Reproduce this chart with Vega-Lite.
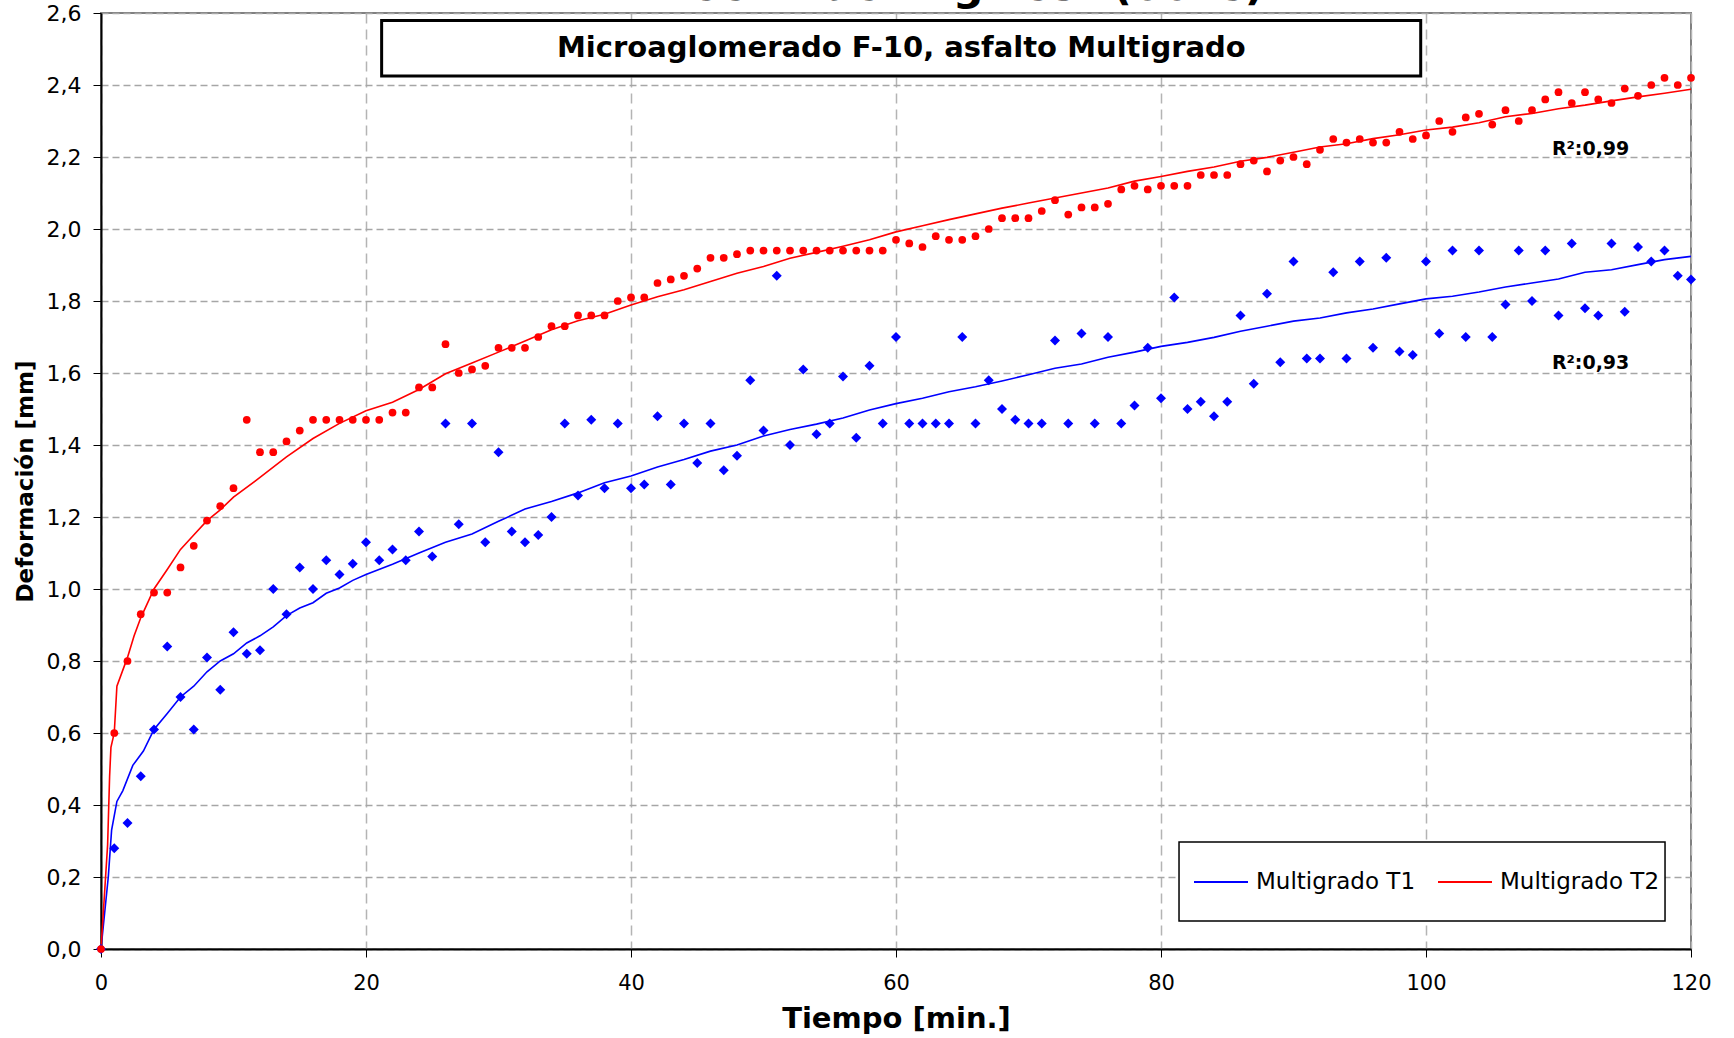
{
"$schema": "https://vega.github.io/schema/vega-lite/v6.json",
"width": 1590,
"height": 936,
"autosize": {"type": "none"},
"padding": {"left": 101, "top": 13, "right": 43, "bottom": 89},
"background": "white",
"config": {
"font": "DejaVu Sans",
"view": {"stroke": "#808080", "strokeWidth": 2},
"axis": {"labelFont": "DejaVu Sans", "labelFontSize": 21, "labelColor": "black", "labelOverlap": false, "tickSize": 8, "tickColor": "black", "tickWidth": 1, "domainColor": "black", "domainWidth": 2, "grid": true, "gridWidth": 1.5, "titleFont": "DejaVu Sans", "titleFontWeight": "bold", "titleColor": "black"},
"axisX": {"titleFontSize": 29, "titlePadding": 11, "labelPadding": 15, "labelFlush": false, "gridColor": "#b4b4b4", "gridDash": [10, 6]},
"axisY": {"titleFontSize": 23, "titlePadding": 9, "labelFontSize": 22, "labelPadding": 12, "gridColor": "#a6a6a6", "gridDash": [7, 4]}
},
"datasets": {
"medidas": [
{"t":0,"d":0,"s":"Multigrado T1"},{"t":1,"d":0.28,"s":"Multigrado T1"},{"t":2,"d":0.35,"s":"Multigrado T1"},{"t":3,"d":0.48,"s":"Multigrado T1"},{"t":4,"d":0.61,"s":"Multigrado T1"},{"t":5,"d":0.84,"s":"Multigrado T1"},{"t":6,"d":0.70,"s":"Multigrado T1"},{"t":7,"d":0.61,"s":"Multigrado T1"},{"t":8,"d":0.81,"s":"Multigrado T1"},{"t":9,"d":0.72,"s":"Multigrado T1"},{"t":10,"d":0.88,"s":"Multigrado T1"},
{"t":11,"d":0.82,"s":"Multigrado T1"},{"t":12,"d":0.83,"s":"Multigrado T1"},{"t":13,"d":1.00,"s":"Multigrado T1"},{"t":14,"d":0.93,"s":"Multigrado T1"},{"t":15,"d":1.06,"s":"Multigrado T1"},{"t":16,"d":1.00,"s":"Multigrado T1"},{"t":17,"d":1.08,"s":"Multigrado T1"},{"t":18,"d":1.04,"s":"Multigrado T1"},{"t":19,"d":1.07,"s":"Multigrado T1"},{"t":20,"d":1.13,"s":"Multigrado T1"},
{"t":21,"d":1.08,"s":"Multigrado T1"},{"t":22,"d":1.11,"s":"Multigrado T1"},{"t":23,"d":1.08,"s":"Multigrado T1"},{"t":24,"d":1.16,"s":"Multigrado T1"},{"t":25,"d":1.09,"s":"Multigrado T1"},{"t":26,"d":1.46,"s":"Multigrado T1"},{"t":27,"d":1.18,"s":"Multigrado T1"},{"t":28,"d":1.46,"s":"Multigrado T1"},{"t":29,"d":1.13,"s":"Multigrado T1"},{"t":30,"d":1.38,"s":"Multigrado T1"},
{"t":31,"d":1.16,"s":"Multigrado T1"},{"t":32,"d":1.13,"s":"Multigrado T1"},{"t":33,"d":1.15,"s":"Multigrado T1"},{"t":34,"d":1.20,"s":"Multigrado T1"},{"t":35,"d":1.46,"s":"Multigrado T1"},{"t":36,"d":1.26,"s":"Multigrado T1"},{"t":37,"d":1.47,"s":"Multigrado T1"},{"t":38,"d":1.28,"s":"Multigrado T1"},{"t":39,"d":1.46,"s":"Multigrado T1"},{"t":40,"d":1.28,"s":"Multigrado T1"},
{"t":41,"d":1.29,"s":"Multigrado T1"},{"t":42,"d":1.48,"s":"Multigrado T1"},{"t":43,"d":1.29,"s":"Multigrado T1"},{"t":44,"d":1.46,"s":"Multigrado T1"},{"t":45,"d":1.35,"s":"Multigrado T1"},{"t":46,"d":1.46,"s":"Multigrado T1"},{"t":47,"d":1.33,"s":"Multigrado T1"},{"t":48,"d":1.37,"s":"Multigrado T1"},{"t":49,"d":1.58,"s":"Multigrado T1"},{"t":50,"d":1.44,"s":"Multigrado T1"},
{"t":51,"d":1.87,"s":"Multigrado T1"},{"t":52,"d":1.40,"s":"Multigrado T1"},{"t":53,"d":1.61,"s":"Multigrado T1"},{"t":54,"d":1.43,"s":"Multigrado T1"},{"t":55,"d":1.46,"s":"Multigrado T1"},{"t":56,"d":1.59,"s":"Multigrado T1"},{"t":57,"d":1.42,"s":"Multigrado T1"},{"t":58,"d":1.62,"s":"Multigrado T1"},{"t":59,"d":1.46,"s":"Multigrado T1"},{"t":60,"d":1.70,"s":"Multigrado T1"},
{"t":61,"d":1.46,"s":"Multigrado T1"},{"t":62,"d":1.46,"s":"Multigrado T1"},{"t":63,"d":1.46,"s":"Multigrado T1"},{"t":64,"d":1.46,"s":"Multigrado T1"},{"t":65,"d":1.70,"s":"Multigrado T1"},{"t":66,"d":1.46,"s":"Multigrado T1"},{"t":67,"d":1.58,"s":"Multigrado T1"},{"t":68,"d":1.50,"s":"Multigrado T1"},{"t":69,"d":1.47,"s":"Multigrado T1"},{"t":70,"d":1.46,"s":"Multigrado T1"},
{"t":71,"d":1.46,"s":"Multigrado T1"},{"t":72,"d":1.69,"s":"Multigrado T1"},{"t":73,"d":1.46,"s":"Multigrado T1"},{"t":74,"d":1.71,"s":"Multigrado T1"},{"t":75,"d":1.46,"s":"Multigrado T1"},{"t":76,"d":1.70,"s":"Multigrado T1"},{"t":77,"d":1.46,"s":"Multigrado T1"},{"t":78,"d":1.51,"s":"Multigrado T1"},{"t":79,"d":1.67,"s":"Multigrado T1"},{"t":80,"d":1.53,"s":"Multigrado T1"},
{"t":81,"d":1.81,"s":"Multigrado T1"},{"t":82,"d":1.50,"s":"Multigrado T1"},{"t":83,"d":1.52,"s":"Multigrado T1"},{"t":84,"d":1.48,"s":"Multigrado T1"},{"t":85,"d":1.52,"s":"Multigrado T1"},{"t":86,"d":1.76,"s":"Multigrado T1"},{"t":87,"d":1.57,"s":"Multigrado T1"},{"t":88,"d":1.82,"s":"Multigrado T1"},{"t":89,"d":1.63,"s":"Multigrado T1"},{"t":90,"d":1.91,"s":"Multigrado T1"},
{"t":91,"d":1.64,"s":"Multigrado T1"},{"t":92,"d":1.64,"s":"Multigrado T1"},{"t":93,"d":1.88,"s":"Multigrado T1"},{"t":94,"d":1.64,"s":"Multigrado T1"},{"t":95,"d":1.91,"s":"Multigrado T1"},{"t":96,"d":1.67,"s":"Multigrado T1"},{"t":97,"d":1.92,"s":"Multigrado T1"},{"t":98,"d":1.66,"s":"Multigrado T1"},{"t":99,"d":1.65,"s":"Multigrado T1"},{"t":100,"d":1.91,"s":"Multigrado T1"},
{"t":101,"d":1.71,"s":"Multigrado T1"},{"t":102,"d":1.94,"s":"Multigrado T1"},{"t":103,"d":1.70,"s":"Multigrado T1"},{"t":104,"d":1.94,"s":"Multigrado T1"},{"t":105,"d":1.70,"s":"Multigrado T1"},{"t":106,"d":1.79,"s":"Multigrado T1"},{"t":107,"d":1.94,"s":"Multigrado T1"},{"t":108,"d":1.80,"s":"Multigrado T1"},{"t":109,"d":1.94,"s":"Multigrado T1"},{"t":110,"d":1.76,"s":"Multigrado T1"},
{"t":111,"d":1.96,"s":"Multigrado T1"},{"t":112,"d":1.78,"s":"Multigrado T1"},{"t":113,"d":1.76,"s":"Multigrado T1"},{"t":114,"d":1.96,"s":"Multigrado T1"},{"t":115,"d":1.77,"s":"Multigrado T1"},{"t":116,"d":1.95,"s":"Multigrado T1"},{"t":117,"d":1.91,"s":"Multigrado T1"},{"t":118,"d":1.94,"s":"Multigrado T1"},{"t":119,"d":1.87,"s":"Multigrado T1"},{"t":120,"d":1.86,"s":"Multigrado T1"},
{"t":0,"d":0,"s":"Multigrado T2"},{"t":1,"d":0.60,"s":"Multigrado T2"},{"t":2,"d":0.80,"s":"Multigrado T2"},{"t":3,"d":0.93,"s":"Multigrado T2"},{"t":4,"d":0.99,"s":"Multigrado T2"},{"t":5,"d":0.99,"s":"Multigrado T2"},{"t":6,"d":1.06,"s":"Multigrado T2"},{"t":7,"d":1.12,"s":"Multigrado T2"},{"t":8,"d":1.19,"s":"Multigrado T2"},{"t":9,"d":1.23,"s":"Multigrado T2"},{"t":10,"d":1.28,"s":"Multigrado T2"},
{"t":11,"d":1.47,"s":"Multigrado T2"},{"t":12,"d":1.38,"s":"Multigrado T2"},{"t":13,"d":1.38,"s":"Multigrado T2"},{"t":14,"d":1.41,"s":"Multigrado T2"},{"t":15,"d":1.44,"s":"Multigrado T2"},{"t":16,"d":1.47,"s":"Multigrado T2"},{"t":17,"d":1.47,"s":"Multigrado T2"},{"t":18,"d":1.47,"s":"Multigrado T2"},{"t":19,"d":1.47,"s":"Multigrado T2"},{"t":20,"d":1.47,"s":"Multigrado T2"},
{"t":21,"d":1.47,"s":"Multigrado T2"},{"t":22,"d":1.49,"s":"Multigrado T2"},{"t":23,"d":1.49,"s":"Multigrado T2"},{"t":24,"d":1.56,"s":"Multigrado T2"},{"t":25,"d":1.56,"s":"Multigrado T2"},{"t":26,"d":1.68,"s":"Multigrado T2"},{"t":27,"d":1.60,"s":"Multigrado T2"},{"t":28,"d":1.61,"s":"Multigrado T2"},{"t":29,"d":1.62,"s":"Multigrado T2"},{"t":30,"d":1.67,"s":"Multigrado T2"},
{"t":31,"d":1.67,"s":"Multigrado T2"},{"t":32,"d":1.67,"s":"Multigrado T2"},{"t":33,"d":1.70,"s":"Multigrado T2"},{"t":34,"d":1.73,"s":"Multigrado T2"},{"t":35,"d":1.73,"s":"Multigrado T2"},{"t":36,"d":1.76,"s":"Multigrado T2"},{"t":37,"d":1.76,"s":"Multigrado T2"},{"t":38,"d":1.76,"s":"Multigrado T2"},{"t":39,"d":1.80,"s":"Multigrado T2"},{"t":40,"d":1.81,"s":"Multigrado T2"},
{"t":41,"d":1.81,"s":"Multigrado T2"},{"t":42,"d":1.85,"s":"Multigrado T2"},{"t":43,"d":1.86,"s":"Multigrado T2"},{"t":44,"d":1.87,"s":"Multigrado T2"},{"t":45,"d":1.89,"s":"Multigrado T2"},{"t":46,"d":1.92,"s":"Multigrado T2"},{"t":47,"d":1.92,"s":"Multigrado T2"},{"t":48,"d":1.93,"s":"Multigrado T2"},{"t":49,"d":1.94,"s":"Multigrado T2"},{"t":50,"d":1.94,"s":"Multigrado T2"},
{"t":51,"d":1.94,"s":"Multigrado T2"},{"t":52,"d":1.94,"s":"Multigrado T2"},{"t":53,"d":1.94,"s":"Multigrado T2"},{"t":54,"d":1.94,"s":"Multigrado T2"},{"t":55,"d":1.94,"s":"Multigrado T2"},{"t":56,"d":1.94,"s":"Multigrado T2"},{"t":57,"d":1.94,"s":"Multigrado T2"},{"t":58,"d":1.94,"s":"Multigrado T2"},{"t":59,"d":1.94,"s":"Multigrado T2"},{"t":60,"d":1.97,"s":"Multigrado T2"},
{"t":61,"d":1.96,"s":"Multigrado T2"},{"t":62,"d":1.95,"s":"Multigrado T2"},{"t":63,"d":1.98,"s":"Multigrado T2"},{"t":64,"d":1.97,"s":"Multigrado T2"},{"t":65,"d":1.97,"s":"Multigrado T2"},{"t":66,"d":1.98,"s":"Multigrado T2"},{"t":67,"d":2.00,"s":"Multigrado T2"},{"t":68,"d":2.03,"s":"Multigrado T2"},{"t":69,"d":2.03,"s":"Multigrado T2"},{"t":70,"d":2.03,"s":"Multigrado T2"},
{"t":71,"d":2.05,"s":"Multigrado T2"},{"t":72,"d":2.08,"s":"Multigrado T2"},{"t":73,"d":2.04,"s":"Multigrado T2"},{"t":74,"d":2.06,"s":"Multigrado T2"},{"t":75,"d":2.06,"s":"Multigrado T2"},{"t":76,"d":2.07,"s":"Multigrado T2"},{"t":77,"d":2.11,"s":"Multigrado T2"},{"t":78,"d":2.12,"s":"Multigrado T2"},{"t":79,"d":2.11,"s":"Multigrado T2"},{"t":80,"d":2.12,"s":"Multigrado T2"},
{"t":81,"d":2.12,"s":"Multigrado T2"},{"t":82,"d":2.12,"s":"Multigrado T2"},{"t":83,"d":2.15,"s":"Multigrado T2"},{"t":84,"d":2.15,"s":"Multigrado T2"},{"t":85,"d":2.15,"s":"Multigrado T2"},{"t":86,"d":2.18,"s":"Multigrado T2"},{"t":87,"d":2.19,"s":"Multigrado T2"},{"t":88,"d":2.16,"s":"Multigrado T2"},{"t":89,"d":2.19,"s":"Multigrado T2"},{"t":90,"d":2.20,"s":"Multigrado T2"},
{"t":91,"d":2.18,"s":"Multigrado T2"},{"t":92,"d":2.22,"s":"Multigrado T2"},{"t":93,"d":2.25,"s":"Multigrado T2"},{"t":94,"d":2.24,"s":"Multigrado T2"},{"t":95,"d":2.25,"s":"Multigrado T2"},{"t":96,"d":2.24,"s":"Multigrado T2"},{"t":97,"d":2.24,"s":"Multigrado T2"},{"t":98,"d":2.27,"s":"Multigrado T2"},{"t":99,"d":2.25,"s":"Multigrado T2"},{"t":100,"d":2.26,"s":"Multigrado T2"},
{"t":101,"d":2.30,"s":"Multigrado T2"},{"t":102,"d":2.27,"s":"Multigrado T2"},{"t":103,"d":2.31,"s":"Multigrado T2"},{"t":104,"d":2.32,"s":"Multigrado T2"},{"t":105,"d":2.29,"s":"Multigrado T2"},{"t":106,"d":2.33,"s":"Multigrado T2"},{"t":107,"d":2.30,"s":"Multigrado T2"},{"t":108,"d":2.33,"s":"Multigrado T2"},{"t":109,"d":2.36,"s":"Multigrado T2"},{"t":110,"d":2.38,"s":"Multigrado T2"},
{"t":111,"d":2.35,"s":"Multigrado T2"},{"t":112,"d":2.38,"s":"Multigrado T2"},{"t":113,"d":2.36,"s":"Multigrado T2"},{"t":114,"d":2.35,"s":"Multigrado T2"},{"t":115,"d":2.39,"s":"Multigrado T2"},{"t":116,"d":2.37,"s":"Multigrado T2"},{"t":117,"d":2.40,"s":"Multigrado T2"},{"t":118,"d":2.42,"s":"Multigrado T2"},{"t":119,"d":2.40,"s":"Multigrado T2"},{"t":120,"d":2.42,"s":"Multigrado T2"}
],
"tendencia": [
{"t":0,"d":0,"s":"Multigrado T1"},{"t":0.55,"d":0.2,"s":"Multigrado T1"},{"t":0.8,"d":0.33,"s":"Multigrado T1"},{"t":1.2,"d":0.41,"s":"Multigrado T1"},{"t":1.65,"d":0.44,"s":"Multigrado T1"},{"t":2.4,"d":0.51,"s":"Multigrado T1"},{"t":3.2,"d":0.55,"s":"Multigrado T1"},{"t":4,"d":0.61,"s":"Multigrado T1"},{"t":5,"d":0.654,"s":"Multigrado T1"},{"t":6,"d":0.70,"s":"Multigrado T1"},{"t":7,"d":0.73,"s":"Multigrado T1"},{"t":8,"d":0.77,"s":"Multigrado T1"},{"t":9,"d":0.80,"s":"Multigrado T1"},{"t":10,"d":0.82,"s":"Multigrado T1"},{"t":11,"d":0.85,"s":"Multigrado T1"},{"t":12,"d":0.87,"s":"Multigrado T1"},{"t":13,"d":0.895,"s":"Multigrado T1"},{"t":14,"d":0.926,"s":"Multigrado T1"},{"t":15,"d":0.947,"s":"Multigrado T1"},{"t":16,"d":0.962,"s":"Multigrado T1"},{"t":17,"d":0.988,"s":"Multigrado T1"},{"t":18,"d":1.003,"s":"Multigrado T1"},{"t":19,"d":1.024,"s":"Multigrado T1"},{"t":20,"d":1.04,"s":"Multigrado T1"},{"t":22,"d":1.069,"s":"Multigrado T1"},{"t":24,"d":1.10,"s":"Multigrado T1"},{"t":26,"d":1.13,"s":"Multigrado T1"},{"t":28,"d":1.153,"s":"Multigrado T1"},{"t":30,"d":1.188,"s":"Multigrado T1"},{"t":32,"d":1.222,"s":"Multigrado T1"},{"t":34,"d":1.243,"s":"Multigrado T1"},{"t":36,"d":1.267,"s":"Multigrado T1"},{"t":38,"d":1.295,"s":"Multigrado T1"},{"t":40,"d":1.314,"s":"Multigrado T1"},{"t":42,"d":1.339,"s":"Multigrado T1"},{"t":44,"d":1.36,"s":"Multigrado T1"},{"t":46,"d":1.383,"s":"Multigrado T1"},{"t":48,"d":1.40,"s":"Multigrado T1"},{"t":50,"d":1.425,"s":"Multigrado T1"},{"t":52,"d":1.443,"s":"Multigrado T1"},{"t":54,"d":1.458,"s":"Multigrado T1"},{"t":56,"d":1.475,"s":"Multigrado T1"},{"t":58,"d":1.497,"s":"Multigrado T1"},{"t":60,"d":1.515,"s":"Multigrado T1"},{"t":62,"d":1.53,"s":"Multigrado T1"},{"t":64,"d":1.548,"s":"Multigrado T1"},{"t":66,"d":1.562,"s":"Multigrado T1"},{"t":68,"d":1.578,"s":"Multigrado T1"},{"t":70,"d":1.595,"s":"Multigrado T1"},{"t":72,"d":1.613,"s":"Multigrado T1"},{"t":74,"d":1.625,"s":"Multigrado T1"},{"t":76,"d":1.644,"s":"Multigrado T1"},{"t":78,"d":1.658,"s":"Multigrado T1"},{"t":80,"d":1.674,"s":"Multigrado T1"},{"t":82,"d":1.685,"s":"Multigrado T1"},{"t":84,"d":1.699,"s":"Multigrado T1"},{"t":86,"d":1.716,"s":"Multigrado T1"},{"t":88,"d":1.73,"s":"Multigrado T1"},{"t":90,"d":1.744,"s":"Multigrado T1"},{"t":92,"d":1.753,"s":"Multigrado T1"},{"t":94,"d":1.767,"s":"Multigrado T1"},{"t":96,"d":1.778,"s":"Multigrado T1"},{"t":98,"d":1.792,"s":"Multigrado T1"},{"t":100,"d":1.806,"s":"Multigrado T1"},{"t":102,"d":1.813,"s":"Multigrado T1"},{"t":104,"d":1.825,"s":"Multigrado T1"},{"t":106,"d":1.839,"s":"Multigrado T1"},{"t":108,"d":1.85,"s":"Multigrado T1"},{"t":110,"d":1.861,"s":"Multigrado T1"},{"t":112,"d":1.88,"s":"Multigrado T1"},{"t":114,"d":1.887,"s":"Multigrado T1"},{"t":116,"d":1.901,"s":"Multigrado T1"},{"t":118,"d":1.915,"s":"Multigrado T1"},{"t":120,"d":1.924,"s":"Multigrado T1"},
{"t":0,"d":0,"s":"Multigrado T2"},{"t":0.5,"d":0.29,"s":"Multigrado T2"},{"t":0.65,"d":0.48,"s":"Multigrado T2"},{"t":0.75,"d":0.56,"s":"Multigrado T2"},{"t":1,"d":0.60,"s":"Multigrado T2"},{"t":1.2,"d":0.73,"s":"Multigrado T2"},{"t":2,"d":0.81,"s":"Multigrado T2"},{"t":2.5,"d":0.87,"s":"Multigrado T2"},{"t":3,"d":0.92,"s":"Multigrado T2"},{"t":4,"d":1.0,"s":"Multigrado T2"},{"t":5,"d":1.054,"s":"Multigrado T2"},{"t":6,"d":1.11,"s":"Multigrado T2"},{"t":7,"d":1.15,"s":"Multigrado T2"},{"t":8,"d":1.19,"s":"Multigrado T2"},{"t":9,"d":1.22,"s":"Multigrado T2"},{"t":10,"d":1.255,"s":"Multigrado T2"},{"t":12,"d":1.31,"s":"Multigrado T2"},{"t":14,"d":1.367,"s":"Multigrado T2"},{"t":16,"d":1.418,"s":"Multigrado T2"},{"t":18,"d":1.46,"s":"Multigrado T2"},{"t":20,"d":1.495,"s":"Multigrado T2"},{"t":22,"d":1.519,"s":"Multigrado T2"},{"t":24,"d":1.554,"s":"Multigrado T2"},{"t":26,"d":1.598,"s":"Multigrado T2"},{"t":28,"d":1.628,"s":"Multigrado T2"},{"t":30,"d":1.658,"s":"Multigrado T2"},{"t":32,"d":1.689,"s":"Multigrado T2"},{"t":34,"d":1.72,"s":"Multigrado T2"},{"t":36,"d":1.745,"s":"Multigrado T2"},{"t":38,"d":1.763,"s":"Multigrado T2"},{"t":40,"d":1.789,"s":"Multigrado T2"},{"t":42,"d":1.812,"s":"Multigrado T2"},{"t":44,"d":1.831,"s":"Multigrado T2"},{"t":46,"d":1.854,"s":"Multigrado T2"},{"t":48,"d":1.877,"s":"Multigrado T2"},{"t":50,"d":1.896,"s":"Multigrado T2"},{"t":52,"d":1.919,"s":"Multigrado T2"},{"t":54,"d":1.935,"s":"Multigrado T2"},{"t":56,"d":1.952,"s":"Multigrado T2"},{"t":58,"d":1.97,"s":"Multigrado T2"},{"t":60,"d":1.992,"s":"Multigrado T2"},{"t":62,"d":2.009,"s":"Multigrado T2"},{"t":64,"d":2.026,"s":"Multigrado T2"},{"t":66,"d":2.042,"s":"Multigrado T2"},{"t":68,"d":2.058,"s":"Multigrado T2"},{"t":70,"d":2.072,"s":"Multigrado T2"},{"t":72,"d":2.086,"s":"Multigrado T2"},{"t":74,"d":2.10,"s":"Multigrado T2"},{"t":76,"d":2.114,"s":"Multigrado T2"},{"t":78,"d":2.133,"s":"Multigrado T2"},{"t":80,"d":2.146,"s":"Multigrado T2"},{"t":82,"d":2.16,"s":"Multigrado T2"},{"t":84,"d":2.172,"s":"Multigrado T2"},{"t":86,"d":2.188,"s":"Multigrado T2"},{"t":88,"d":2.199,"s":"Multigrado T2"},{"t":90,"d":2.213,"s":"Multigrado T2"},{"t":92,"d":2.228,"s":"Multigrado T2"},{"t":94,"d":2.237,"s":"Multigrado T2"},{"t":96,"d":2.251,"s":"Multigrado T2"},{"t":98,"d":2.262,"s":"Multigrado T2"},{"t":100,"d":2.275,"s":"Multigrado T2"},{"t":102,"d":2.283,"s":"Multigrado T2"},{"t":104,"d":2.295,"s":"Multigrado T2"},{"t":106,"d":2.312,"s":"Multigrado T2"},{"t":108,"d":2.321,"s":"Multigrado T2"},{"t":110,"d":2.334,"s":"Multigrado T2"},{"t":112,"d":2.344,"s":"Multigrado T2"},{"t":114,"d":2.356,"s":"Multigrado T2"},{"t":116,"d":2.367,"s":"Multigrado T2"},{"t":118,"d":2.377,"s":"Multigrado T2"},{"t":120,"d":2.388,"s":"Multigrado T2"}
]
},
"layer": [
{
"data": {"name": "tendencia"},
"mark": {"type": "line", "strokeWidth": 1.6},
"encoding": {
"x": {"field": "t", "type": "quantitative", "scale": {"domain": [0, 120], "nice": false, "zero": false}, "axis": {"values": [0, 20, 40, 60, 80, 100, 120], "title": "Tiempo [min.]"}},
"y": {"field": "d", "type": "quantitative", "scale": {"domain": [0, 2.6], "nice": false, "zero": false}, "axis": {"values": [0, 0.2, 0.4, 0.6, 0.8, 1.0, 1.2, 1.4, 1.6, 1.8, 2.0, 2.2, 2.4, 2.6], "labelExpr": "replace(format(datum.value, '.1f'), '.', ',')", "title": "Deformación [mm]"}},
"color": {"field": "s", "type": "nominal", "scale": {"domain": ["Multigrado T1", "Multigrado T2"], "range": ["#0000ff", "#ff0000"]},
"legend": {"title": null, "orient": "none", "legendX": 1092, "legendY": 841, "direction": "horizontal", "symbolType": "stroke", "symbolSize": 2916, "symbolStrokeWidth": 2, "labelFont": "DejaVu Sans", "labelFontSize": 23, "labelColor": "black", "labelOffset": 7, "columnPadding": 18, "padding": 0, "labelLimit": 400}}
}
},
{
"data": {"name": "medidas"},
"transform": [{"filter": "datum.s === 'Multigrado T1'"}],
"mark": {"type": "point", "shape": "diamond", "filled": true, "size": 100, "color": "#0000ff", "opacity": 1},
"encoding": {
"x": {"field": "t", "type": "quantitative", "scale": {"domain": [0, 120], "nice": false, "zero": false}, "axis": {"values": [0, 20, 40, 60, 80, 100, 120], "title": "Tiempo [min.]"}},
"y": {"field": "d", "type": "quantitative", "scale": {"domain": [0, 2.6], "nice": false, "zero": false}, "axis": {"values": [0, 0.2, 0.4, 0.6, 0.8, 1.0, 1.2, 1.4, 1.6, 1.8, 2.0, 2.2, 2.4, 2.6], "labelExpr": "replace(format(datum.value, '.1f'), '.', ',')", "title": "Deformación [mm]"}}
}
},
{
"data": {"name": "medidas"},
"transform": [{"filter": "datum.s === 'Multigrado T2'"}],
"mark": {"type": "circle", "size": 60, "color": "#ff0000", "opacity": 1},
"encoding": {
"x": {"field": "t", "type": "quantitative", "scale": {"domain": [0, 120], "nice": false, "zero": false}, "axis": {"values": [0, 20, 40, 60, 80, 100, 120], "title": "Tiempo [min.]"}},
"y": {"field": "d", "type": "quantitative", "scale": {"domain": [0, 2.6], "nice": false, "zero": false}, "axis": {"values": [0, 0.2, 0.4, 0.6, 0.8, 1.0, 1.2, 1.4, 1.6, 1.8, 2.0, 2.2, 2.4, 2.6], "labelExpr": "replace(format(datum.value, '.1f'), '.', ',')", "title": "Deformación [mm]"}}
}
},
{
"data": {"values": [{}]},
"mark": {"type": "text", "text": "Wheel Tracking Test (60°C)", "font": "DejaVu Sans", "fontSize": 43, "fontWeight": "bold", "color": "black", "align": "center", "baseline": "alphabetic"},
"encoding": {
"x": {"datum": 63.2, "type": "quantitative", "scale": {"domain": [0, 120], "nice": false, "zero": false}, "axis": {"values": [0, 20, 40, 60, 80, 100, 120], "title": "Tiempo [min.]"}},
"y": {"datum": 2.637, "type": "quantitative", "scale": {"domain": [0, 2.6], "nice": false, "zero": false}, "axis": {"values": [0, 0.2, 0.4, 0.6, 0.8, 1.0, 1.2, 1.4, 1.6, 1.8, 2.0, 2.2, 2.4, 2.6], "labelExpr": "replace(format(datum.value, '.1f'), '.', ',')", "title": "Deformación [mm]"}}
}
},
{
"data": {"values": [{}]},
"mark": {"type": "rect", "fill": "white", "stroke": "black", "strokeWidth": 3},
"encoding": {
"x": {"datum": 21.18, "type": "quantitative", "scale": {"domain": [0, 120], "nice": false, "zero": false}, "axis": {"values": [0, 20, 40, 60, 80, 100, 120], "title": "Tiempo [min.]"}},
"x2": {"datum": 99.6},
"y": {"datum": 2.579, "type": "quantitative", "scale": {"domain": [0, 2.6], "nice": false, "zero": false}, "axis": {"values": [0, 0.2, 0.4, 0.6, 0.8, 1.0, 1.2, 1.4, 1.6, 1.8, 2.0, 2.2, 2.4, 2.6], "labelExpr": "replace(format(datum.value, '.1f'), '.', ',')", "title": "Deformación [mm]"}},
"y2": {"datum": 2.425}
}
},
{
"data": {"values": [{}]},
"mark": {"type": "text", "text": "Microaglomerado F-10, asfalto Multigrado", "font": "DejaVu Sans", "fontSize": 29, "fontWeight": "bold", "color": "black", "align": "center", "baseline": "middle"},
"encoding": {
"x": {"datum": 60.4, "type": "quantitative", "scale": {"domain": [0, 120], "nice": false, "zero": false}, "axis": {"values": [0, 20, 40, 60, 80, 100, 120], "title": "Tiempo [min.]"}},
"y": {"datum": 2.502, "type": "quantitative", "scale": {"domain": [0, 2.6], "nice": false, "zero": false}, "axis": {"values": [0, 0.2, 0.4, 0.6, 0.8, 1.0, 1.2, 1.4, 1.6, 1.8, 2.0, 2.2, 2.4, 2.6], "labelExpr": "replace(format(datum.value, '.1f'), '.', ',')", "title": "Deformación [mm]"}}
}
},
{
"data": {"values": [{}]},
"mark": {"type": "rect", "fill": "white", "stroke": "black", "strokeWidth": 1.5},
"encoding": {
"x": {"datum": 81.36, "type": "quantitative", "scale": {"domain": [0, 120], "nice": false, "zero": false}, "axis": {"values": [0, 20, 40, 60, 80, 100, 120], "title": "Tiempo [min.]"}},
"x2": {"datum": 118.04},
"y": {"datum": 0.297, "type": "quantitative", "scale": {"domain": [0, 2.6], "nice": false, "zero": false}, "axis": {"values": [0, 0.2, 0.4, 0.6, 0.8, 1.0, 1.2, 1.4, 1.6, 1.8, 2.0, 2.2, 2.4, 2.6], "labelExpr": "replace(format(datum.value, '.1f'), '.', ',')", "title": "Deformación [mm]"}},
"y2": {"datum": 0.078}
}
},
{
"data": {"values": [{}]},
"mark": {"type": "text", "text": "R²:0,99", "font": "DejaVu Sans", "fontSize": 19, "fontWeight": "bold", "color": "black", "align": "left", "baseline": "middle"},
"encoding": {
"x": {"datum": 109.5, "type": "quantitative", "scale": {"domain": [0, 120], "nice": false, "zero": false}, "axis": {"values": [0, 20, 40, 60, 80, 100, 120], "title": "Tiempo [min.]"}},
"y": {"datum": 2.222, "type": "quantitative", "scale": {"domain": [0, 2.6], "nice": false, "zero": false}, "axis": {"values": [0, 0.2, 0.4, 0.6, 0.8, 1.0, 1.2, 1.4, 1.6, 1.8, 2.0, 2.2, 2.4, 2.6], "labelExpr": "replace(format(datum.value, '.1f'), '.', ',')", "title": "Deformación [mm]"}}
}
},
{
"data": {"values": [{}]},
"mark": {"type": "text", "text": "R²:0,93", "font": "DejaVu Sans", "fontSize": 19, "fontWeight": "bold", "color": "black", "align": "left", "baseline": "middle"},
"encoding": {
"x": {"datum": 109.5, "type": "quantitative", "scale": {"domain": [0, 120], "nice": false, "zero": false}, "axis": {"values": [0, 20, 40, 60, 80, 100, 120], "title": "Tiempo [min.]"}},
"y": {"datum": 1.629, "type": "quantitative", "scale": {"domain": [0, 2.6], "nice": false, "zero": false}, "axis": {"values": [0, 0.2, 0.4, 0.6, 0.8, 1.0, 1.2, 1.4, 1.6, 1.8, 2.0, 2.2, 2.4, 2.6], "labelExpr": "replace(format(datum.value, '.1f'), '.', ',')", "title": "Deformación [mm]"}}
}
}
]
}
